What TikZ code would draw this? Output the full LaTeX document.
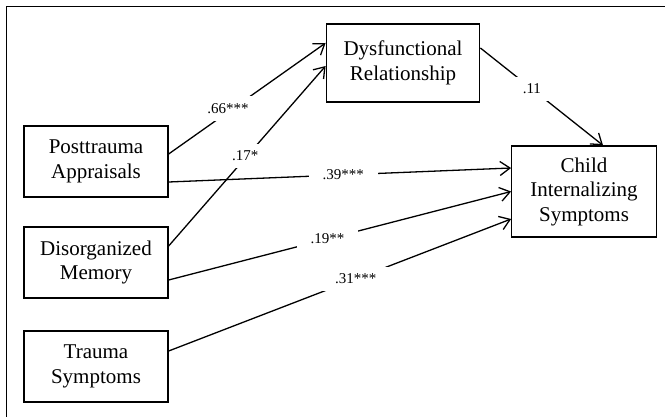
\documentclass[tikz,border=0pt]{standalone}
\usepackage{fontspec}
\setmainfont{Liberation Serif}
\usetikzlibrary{arrows.meta}
\newcommand{\boxFont}{\fontsize{21}{24.5}\selectfont}
\newcommand{\coefFont}{\fontsize{15}{15}\selectfont}
\tikzset{
  varbox/.style={draw, line width=1.3pt, align=center, inner sep=0pt,
    minimum width=144pt, minimum height=71pt, font=\boxFont},
  coef/.style={fill=white, inner xsep=14pt, inner ysep=7pt, font=\coefFont},
  link/.style={line width=1.3pt,
    -{Straight Barb[length=10pt,width=14pt,line width=1.3pt]}}
}

\begin{document}
\begin{tikzpicture}[x=1pt,y=-1pt]
\useasboundingbox (0,0) rectangle (665,417);
\draw[line width=1.7pt] (665,6.5) -- (6.5,6.5) -- (6.5,417);

\node[varbox] (post) at (96,161.5) {Posttrauma\\Appraisals};
\node[varbox] (disorg) at (96,262.5) {Disorganized\\Memory};
\node[varbox] (trauma) at (96,366.5) {Trauma\\Symptoms};
\node[varbox, minimum width=153.5pt, minimum height=78pt] (dysf) at (403,63) {Dysfunctional\\Relationship};
\node[varbox, minimum width=144.5pt, minimum height=91pt] (child) at (584,191.5) {Child\\Internalizing\\Symptoms};

\draw[link] ([yshift=7.5pt]post.east) -- node[coef, pos=0.41, xshift=-5pt] {.66***} ([yshift=20pt]dysf.west);
\draw[link] ([yshift=16.5pt]disorg.east) -- node[coef, pos=0.5, xshift=-2pt] {.17*} ([yshift=-3pt]dysf.west);
\draw[link] ([yshift=-20.5pt]post.east) -- node[coef, pos=0.51] {.39***} ([yshift=23.5pt]child.west);
\draw[link] ([yshift=-17.5pt]disorg.east) -- node[coef, pos=0.464] {.19**} (child.west);
\draw[link] ([yshift=15.5pt]trauma.east) -- node[coef, pos=0.546] {.31***} ([yshift=-27.5pt]child.west);
\draw[link] ([yshift=15pt]dysf.east) -- node[coef, pos=0.42] {.11} ([xshift=19pt]child.north);
\end{tikzpicture}
\end{document}
